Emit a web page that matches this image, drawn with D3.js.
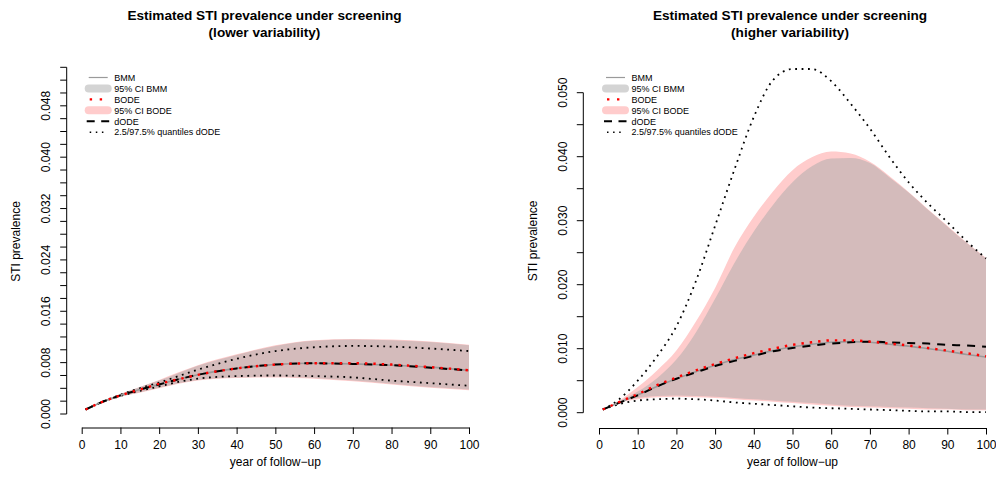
<!DOCTYPE html>
<html>
<head>
<meta charset="utf-8">
<script src="https://cdn.jsdelivr.net/npm/d3@7"></script>
<style>
  body { margin: 0; background: #fff; }
  svg { display: block; font-family: "Liberation Sans", Arial, Helvetica, sans-serif; }
</style>
</head>
<body>
<svg id="chart" width="996" height="489"></svg>
<script>
// ---- lower variability (left panel) ----
const yearsLow = [1, 5, 10, 15, 20, 25, 30, 40, 50, 60, 70, 80, 90, 100];
const bmmLow = [0.0007, 0.0018, 0.0029, 0.0038, 0.0046, 0.0054, 0.0061, 0.0071, 0.0077, 0.0079, 0.0078, 0.0076, 0.0073, 0.0068];
const bodeLow = [0.0007, 0.0018, 0.0029, 0.0038, 0.0047, 0.0054, 0.0061, 0.0071, 0.0077, 0.0079, 0.0079, 0.0077, 0.0073, 0.0068];
const dodeLow = [0.0007, 0.0018, 0.0029, 0.0038, 0.0046, 0.0054, 0.0061, 0.0071, 0.0077, 0.0079, 0.0078, 0.0076, 0.0072, 0.0068];
const bmmLoLow = [0.0007, 0.0017, 0.0027, 0.0034, 0.0041, 0.0048, 0.0053, 0.0057, 0.0058, 0.0056, 0.0052, 0.0047, 0.0042, 0.0038];
const bmmHiLow = [0.0007, 0.0019, 0.0031, 0.0042, 0.0052, 0.0064, 0.0075, 0.0092, 0.0106, 0.0114, 0.0116, 0.0115, 0.0112, 0.0107];
const bodeLoLow = [0.0007, 0.0017, 0.0027, 0.0033, 0.0040, 0.0047, 0.0052, 0.0056, 0.0057, 0.0055, 0.0051, 0.0046, 0.0041, 0.0037];
const bodeHiLow = [0.0007, 0.0019, 0.0031, 0.0042, 0.0053, 0.0065, 0.0076, 0.0093, 0.0107, 0.0115, 0.0117, 0.0116, 0.0113, 0.0108];
const qLoLow = [0.0007, 0.0018, 0.0028, 0.0036, 0.0043, 0.0050, 0.0055, 0.0059, 0.0060, 0.0059, 0.0057, 0.0052, 0.0048, 0.0044];
const qHiLow = [0.0007, 0.0018, 0.0030, 0.0040, 0.0049, 0.0059, 0.0069, 0.0086, 0.0098, 0.0104, 0.0106, 0.0105, 0.0102, 0.0098];

// ---- higher variability (right panel) ----
const yearsHigh = [1, 5, 10, 15, 20, 25, 30, 35, 40, 45, 50, 55, 60, 65, 70, 75, 80, 85, 90, 95, 100];
const bmmHigh = [0.0005, 0.0015, 0.0028, 0.0041, 0.0053, 0.0064, 0.0074, 0.0083, 0.0090, 0.0097, 0.0103, 0.0107, 0.0110, 0.0111, 0.0110, 0.0107, 0.0104, 0.0100, 0.0096, 0.0091, 0.0087];
const bodeHigh = [0.0005, 0.0016, 0.0029, 0.0043, 0.0055, 0.0066, 0.0076, 0.0085, 0.0093, 0.0100, 0.0106, 0.0110, 0.0113, 0.0113, 0.0111, 0.0108, 0.0105, 0.0101, 0.0097, 0.0093, 0.0088];
const dodeHigh = [0.0005, 0.0015, 0.0027, 0.0041, 0.0053, 0.0063, 0.0073, 0.0081, 0.0089, 0.0096, 0.0101, 0.0105, 0.0108, 0.0110, 0.0111, 0.0110, 0.0109, 0.0108, 0.0106, 0.0105, 0.0103];
const bmmLoHigh = [0.0005, 0.0016, 0.0023, 0.0026, 0.0027, 0.0026, 0.0025, 0.0023, 0.0021, 0.0019, 0.0017, 0.0015, 0.0013, 0.0011, 0.0010, 0.0009, 0.0008, 0.0007, 0.0006, 0.0005, 0.0005];
const bmmHiHigh = [0.0005, 0.0017, 0.0033, 0.0054, 0.0083, 0.0125, 0.0178, 0.0234, 0.0283, 0.0325, 0.0360, 0.0385, 0.0397, 0.0398, 0.0390, 0.0368, 0.0344, 0.0317, 0.0291, 0.0265, 0.0241];
const bodeLoHigh = [0.0005, 0.0015, 0.0021, 0.0024, 0.0025, 0.0024, 0.0023, 0.0021, 0.0019, 0.0017, 0.0015, 0.0013, 0.0011, 0.0009, 0.0008, 0.0007, 0.0006, 0.0005, 0.0005, 0.0004, 0.0004];
const bodeHiHigh = [0.0005, 0.0018, 0.0040, 0.0066, 0.0097, 0.0142, 0.0195, 0.0258, 0.0306, 0.0346, 0.0379, 0.0399, 0.0408, 0.0405, 0.0392, 0.0370, 0.0345, 0.0318, 0.0292, 0.0266, 0.0242];
const qLoHigh = [0.0005, 0.0013, 0.0019, 0.0021, 0.0022, 0.0021, 0.0019, 0.0016, 0.0014, 0.0012, 0.0010, 0.0008, 0.0007, 0.0006, 0.0005, 0.0004, 0.0003, 0.0002, 0.0002, 0.0001, 0.0001];
const qHiHigh = [0.0005, 0.0020, 0.0050, 0.0088, 0.0135, 0.0205, 0.0292, 0.0380, 0.0462, 0.0520, 0.0537, 0.0537, 0.0518, 0.0483, 0.0444, 0.0400, 0.0360, 0.0327, 0.0298, 0.0268, 0.0241];

// ---- axes / labels ----
const xTicks = d3.range(0, 101, 10);
const yTicksLow = d3.range(0, 0.0541, 0.002);
const yLabelsLow = [0, 0.008, 0.016, 0.024, 0.032, 0.04, 0.048];
const yTicksHigh = d3.range(0, 0.0501, 0.005);
const yLabelsHigh = [0, 0.01, 0.02, 0.03, 0.04, 0.05];

const mainTitle = "Estimated STI prevalence under screening";
const legendLabels = ["BMM", "95% CI BMM", "BODE", "95% CI BODE", "dODE", "2.5/97.5% quantiles dODE"];

const col = {
  bmm: "#9a9a9a",
  bmmCI: "rgba(170,170,170,0.5)",
  bmmCIlegend: "#d4d4d4",
  bode: "#ff0000",
  bodeCI: "#ffcccc",
  dode: "#000000",
};

const svg = d3.select("#chart");

function panel(opts) {
  const { years, series, yTicks, yLabels, yMax } = opts;
  const x = d3.scaleLinear().domain([0, 100]).range([opts.x0, opts.x1]);
  const y = d3.scaleLinear().domain([0, yMax]).range([opts.yBot, opts.yTop]);
  const g = svg.append("g");

  const rows = years.map((t, i) => ({
    t,
    bmm: series.bmm[i], bode: series.bode[i], dode: series.dode[i],
    bmmLo: series.bmmLo[i], bmmHi: series.bmmHi[i],
    bodeLo: series.bodeLo[i], bodeHi: series.bodeHi[i],
    qLo: series.qLo[i], qHi: series.qHi[i],
  }));

  const band = (lo, hi) =>
    d3.area().curve(d3.curveMonotoneX)
      .x((d) => x(d.t)).y0((d) => y(d[lo])).y1((d) => y(d[hi]));
  const line = (k) =>
    d3.line().curve(d3.curveMonotoneX).x((d) => x(d.t)).y((d) => y(d[k]));

  g.append("path").datum(rows).attr("d", band("bodeLo", "bodeHi")).attr("fill", col.bodeCI);
  g.append("path").datum(rows).attr("d", band("bmmLo", "bmmHi")).attr("fill", col.bmmCI);

  ["qLo", "qHi"].forEach((k) =>
    g.append("path").datum(rows).attr("d", line(k))
      .attr("fill", "none").attr("stroke", "#000").attr("stroke-width", 1.8)
      .attr("stroke-dasharray", "1.8,4.6")
  );
  g.append("path").datum(rows).attr("d", line("bmm"))
    .attr("fill", "none").attr("stroke", col.bmm).attr("stroke-width", 1.6);
  g.append("path").datum(rows).attr("d", line("dode"))
    .attr("fill", "none").attr("stroke", col.dode).attr("stroke-width", 2)
    .attr("stroke-dasharray", "8,7");
  g.append("path").datum(rows).attr("d", line("bode"))
    .attr("fill", "none").attr("stroke", col.bode).attr("stroke-width", 2.4)
    .attr("stroke-dasharray", "2.4,6");

  // x axis
  const gx = g.append("g").attr("transform", `translate(0,${opts.xAxisY})`);
  gx.call(d3.axisBottom(x).tickValues(xTicks).tickSize(6.5).tickPadding(6).tickSizeOuter(0));
  gx.select(".domain").attr("stroke", "#000");
  gx.selectAll(".tick line").attr("stroke", "#000");
  gx.selectAll("text").attr("font-size", 12).attr("fill", "#000").attr("font-family", null);

  // y axis (R style, labels turned)
  const gy = g.append("g").attr("transform", `translate(${opts.yAxisX},0)`);
  gy.append("line")
    .attr("x1", 0).attr("x2", 0)
    .attr("y1", y(d3.max(yTicks))).attr("y2", y(0))
    .attr("stroke", "#000");
  gy.selectAll(".yt").data(yTicks).join("line")
    .attr("x1", 0).attr("x2", -6.5)
    .attr("y1", (d) => y(d)).attr("y2", (d) => y(d))
    .attr("stroke", "#000");
  gy.selectAll(".yl").data(yLabels).join("text")
    .attr("transform", (d) => `translate(-16.5,${y(d)}) rotate(-90)`)
    .attr("text-anchor", "middle").attr("font-size", 12)
    .text((d) => d3.format(".3f")(d));

  // titles
  const tt = g.append("text").attr("text-anchor", "middle")
    .attr("font-weight", "bold").attr("font-size", 13.6);
  tt.append("tspan").attr("x", opts.titleX).attr("y", 20).text(mainTitle);
  tt.append("tspan").attr("x", opts.titleX).attr("y", 37).text(opts.subTitle);

  g.append("text").attr("x", (opts.x0 + opts.x1) / 2).attr("y", 466)
    .attr("text-anchor", "middle").attr("font-size", 12).text("year of follow\u2212up");
  g.append("text")
    .attr("transform", `translate(${opts.yAxisX - 46.5},${(opts.yBot + 67) / 2 + 1}) rotate(-90)`)
    .attr("text-anchor", "middle").attr("font-size", 12).text("STI prevalence");

  // legend
  const lx = opts.x0 + 5, ly = 77.5, step = 10.95;
  const lg = g.append("g").attr("font-size", 9);
  legendLabels.forEach((lab, i) => {
    const yy = ly + i * step;
    lg.append("text").attr("x", lx + 27.6).attr("y", yy + 3.2).text(lab);
  });
  const sym = (i) => lg.append("line").attr("x1", lx + 2).attr("x2", lx + 21)
    .attr("y1", ly + i * step).attr("y2", ly + i * step).attr("fill", "none");
  sym(0).attr("stroke", col.bmm).attr("stroke-width", 1.2);
  sym(1).attr("stroke", col.bmmCIlegend).attr("stroke-width", 8).attr("stroke-linecap", "round");
  sym(2).attr("stroke", col.bode).attr("stroke-width", 2.4).attr("stroke-dasharray", "2.4,7.6").attr("x1", lx + 3);
  sym(3).attr("stroke", col.bodeCI).attr("stroke-width", 8).attr("stroke-linecap", "round");
  sym(4).attr("stroke", "#000").attr("stroke-width", 2).attr("stroke-dasharray", "8,6.5").attr("x1", lx).attr("x2", lx + 24);
  sym(5).attr("stroke", "#000").attr("stroke-width", 1.5).attr("stroke-dasharray", "1.5,4.6").attr("x1", lx + 3).attr("x2", lx + 20);
}

panel({
  years: yearsLow,
  series: { bmm: bmmLow, bode: bodeLow, dode: dodeLow, bmmLo: bmmLoLow, bmmHi: bmmHiLow,
            bodeLo: bodeLoLow, bodeHi: bodeHiLow, qLo: qLoLow, qHi: qHiLow },
  yTicks: yTicksLow, yLabels: yLabelsLow, yMax: 0.054,
  x0: 81.7, x1: 469, yBot: 414, yTop: 67.3,
  xAxisY: 427.5, yAxisX: 66.7, titleX: 264.5,
  subTitle: "(lower variability)",
});

panel({
  years: yearsHigh,
  series: { bmm: bmmHigh, bode: bodeHigh, dode: dodeHigh, bmmLo: bmmLoHigh, bmmHi: bmmHiHigh,
            bodeLo: bodeLoHigh, bodeHi: bodeHiHigh, qLo: qLoHigh, qHi: qHiHigh },
  yTicks: yTicksHigh, yLabels: yLabelsHigh, yMax: 0.05,
  x0: 599, x1: 986, yBot: 412.7, yTop: 92.7,
  xAxisY: 428, yAxisX: 583.3, titleX: 790,
  subTitle: "(higher variability)",
});
</script>
</body>
</html>
